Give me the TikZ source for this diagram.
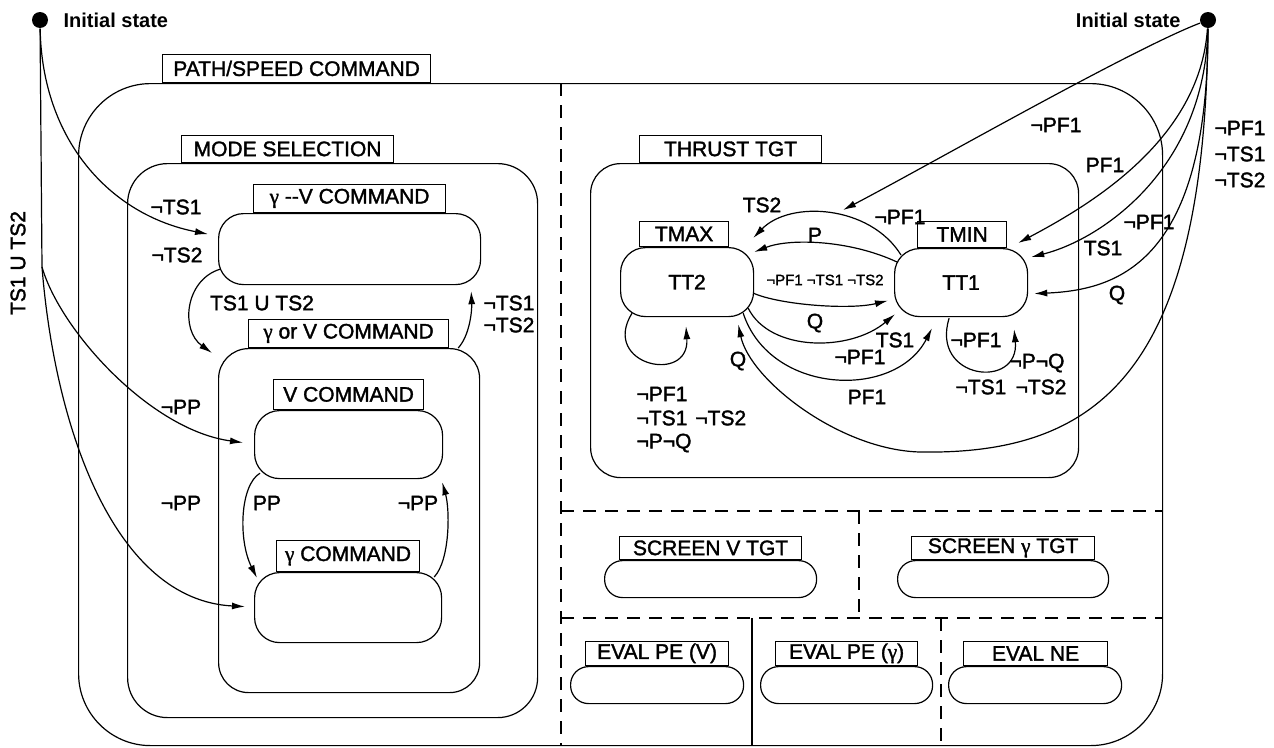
\documentclass[tikz,border=0pt]{standalone}
\usepackage{fontspec}
\setmainfont{Liberation Sans}[FakeBold=1.6]
\newfontfamily\headfont{Liberation Sans Bold}
\newfontfamily\grkfont{Liberation Serif}[FakeBold=1.6]
\newcommand{\gmm}{{\grkfont γ}}
\usetikzlibrary{arrows.meta,calc}

\begin{document}
\begin{tikzpicture}[x=1pt,y=-1pt,
  every node/.style={font=\fontsize{21}{23}\selectfont},
  line width=1.2pt,
  txt/.style={inner sep=0pt},
  small/.style={inner sep=0pt,font=\fontsize{15}{17}\selectfont},
  tag/.style={draw, inner sep=0pt, anchor=south west},
  region/.style={draw, rounded corners=#1, anchor=north west, inner sep=0pt},
  region/.default=25pt,
  edge/.style={-{Latex[length=13pt,width=7pt]}},
  bound/.style={dash pattern=on 13pt off 9pt},
  dot/.style={circle, fill, inner sep=0pt, minimum size=16pt},
  start/.style={inner sep=0pt, font=\headfont\fontsize{20}{22}\selectfont}
]
\useasboundingbox (0,0) rectangle (1274,747);

% initial states
\node[dot] (initL) at (40,20) {};
\node[start, anchor=west] (initLtxt) at (63,20) {Initial state};
\node[dot] (initR) at (1208,20) {};
\node[start, anchor=east] (initRtxt) at (1181,20) {Initial state};

% outer superstate
\node[region=72pt, minimum width=1084pt, minimum height=662pt] (ps) at (78,83) {};
\node[tag, minimum width=268pt, minimum height=28pt] (psTag) at (162,83) {PATH/SPEED COMMAND};

% orthogonal partitions
\draw[bound] (561,83) -- (561,745);
\draw[bound] (561,511) -- (1162,511);
\draw[bound] (561,618) -- (1162,618);
\draw[bound] (859,511) -- (859,618);
\draw (752,618) -- (752,745);
\draw[bound] (941,618) -- (941,745);

% mode selection
\node[region=40pt, minimum width=410pt, minimum height=554pt] (mode) at (127,163) {};
\node[tag, minimum width=212pt, minimum height=27pt] (modeTag) at (181,163) {MODE SELECTION};

\node[region=25pt, minimum width=262pt, minimum height=71pt] (gvc) at (218,213) {};
\node[tag, minimum width=192pt, minimum height=28pt] (gvcTag) at (253,213) {\gmm{} -{}-V COMMAND};

\node[region=30pt, minimum width=261pt, minimum height=344pt] (gorv) at (218,348) {};
\node[tag, minimum width=200pt, minimum height=28pt] (gorvTag) at (248,348) {\gmm{} or V COMMAND};

\node[region=25pt, minimum width=188pt, minimum height=68pt] (vcmd) at (254,410) {};
\node[tag, minimum width=150pt, minimum height=30pt] (vcmdTag) at (273,410) {V COMMAND};

\node[region=25pt, minimum width=187pt, minimum height=70pt] (gcmd) at (254,572) {};
\node[tag, minimum width=143pt, minimum height=31pt] (gcmdTag) at (276,572) {\gmm{} COMMAND};

% thrust target
\node[region=30pt, minimum width=488pt, minimum height=314pt] (thrust) at (590,163) {};
\node[tag, minimum width=182pt, minimum height=27pt] (thrustTag) at (639,163) {THRUST TGT};

\node[region=25pt, minimum width=133pt, minimum height=69pt] (tt2) at (620,247) {TT2};
\node[tag, minimum width=89pt, minimum height=25pt] (tt2Tag) at (639,247) {TMAX};
\node[region=25pt, minimum width=133pt, minimum height=68pt] (tt1) at (894,248) {TT1};
\node[tag, minimum width=89pt, minimum height=26pt] (tt1Tag) at (917,248) {TMIN};

% screening and evaluation states
\node[region=18pt, minimum width=212pt, minimum height=37pt] (svt) at (604,560) {};
\node[tag, minimum width=182pt, minimum height=23pt] (svtTag) at (619,560) {SCREEN V TGT};
\node[region=18pt, minimum width=211pt, minimum height=37pt] (sgt) at (897,560) {};
\node[tag, minimum width=183pt, minimum height=23pt] (sgtTag) at (911,560) {SCREEN \gmm{} TGT};
\node[region=18pt, minimum width=173pt, minimum height=37pt] (epv) at (570,666) {};
\node[tag, minimum width=143pt, minimum height=24pt] (epvTag) at (585,666) {EVAL PE (V)};
\node[region=18pt, minimum width=172pt, minimum height=37pt] (epg) at (760,666) {};
\node[tag, minimum width=142pt, minimum height=24pt] (epgTag) at (775,666) {EVAL PE (\gmm)};
\node[region=18pt, minimum width=173pt, minimum height=37pt] (ene) at (948,666) {};
\node[tag, minimum width=144pt, minimum height=24pt] (eneTag) at (963,666) {EVAL NE};

% transitions from the left initial state
\coordinate (split) at (42,267);
\draw (initL) -- (split);
\draw[edge] (initL) .. controls (42,140) and (110,215) .. ($(gvc.west)+(-10,-15)$);
\draw[edge] (split) .. controls (60,330) and (150,430) .. ($(vcmd.west)+(-11,-2)$);
\draw[edge] (split) .. controls (55,430) and (115,600) .. ($(gcmd.west)+(-9,-1)$);

% transitions inside mode selection
\draw[edge] ($(gvc.south west)+(2,-16)$) .. controls (185,280) and (180,330) .. ($(gorv.north west)+(-6,5)$);
\draw[edge] ($(gorv.north east)+(-22,0)$) .. controls (470,335) and (472,310) .. ($(gvc.south east)+(-10,6)$);
\draw[edge] ($(vcmd.south west)+(6,-6)$) .. controls (240,485) and (238,540) .. ($(gcmd.north west)+(3,6)$);
\draw[edge] ($(gcmd.north east)+(-8,5)$) .. controls (450,560) and (450,510) .. ($(vcmd.south east)+(-1,3)$);

% transitions inside thrust target
\coordinate (join) at (843,210);
\draw[edge] ($(tt1.north west)+(7,7)$) .. controls (870,205) and (790,200) .. ($(tt2.north east)+(-1,-9)$);
\draw[edge] ($(tt1.north west)+(3,14)$) .. controls (850,240) and (790,238) .. ($(tt2.north east)+(0,5)$);
\draw[edge] ($(tt2.east)+(-1,11)$) .. controls (780,305) and (850,310) .. ($(tt1.west)+(-6,18)$);
\draw[edge] ($(tt2.south east)+(-6,-9)$) .. controls (770,352) and (850,352) .. ($(tt1.south west)+(1,-3)$);
\draw[edge] ($(tt2.south east)+(-11,-4)$) .. controls (770,395) and (895,400) .. ($(tt1.south west)+(38,11)$);
\draw[edge] ($(tt2.south west)+(12,-4)$) .. controls (600,365) and (690,385) .. ($(tt2.south west)+(66,9)$);
\draw[edge] ($(tt1.south)+(-12,1)$) .. controls (930,380) and (1020,390) .. ($(tt1.south)+(53,12)$);

% transitions from the right initial state
\draw[edge] (initR) .. controls (1130,50) and (920,170) .. (join);
\draw[edge] (initR) .. controls (1200,140) and (1090,205) .. ($(tt1.north east)+(-10,-5)$);
\draw[edge] (initR) .. controls (1205,170) and (1100,240) .. ($(tt1.north east)+(3,9)$);
\draw[edge] (initR) .. controls (1208,260) and (1120,290) .. ($(tt1.east)+(6,11)$);
\draw[edge] (initR) .. controls (1205,370) and (1100,455) .. (920,452)
  .. controls (840,450) and (750,380) .. ($(tt2.south east)+(-16,7)$);

% labels: left side
\node[txt, rotate=90] (lTS) at (18,263) {TS1 U TS2};
\node[txt] (l1) at (176,207) {¬TS1};
\node[txt] (l2) at (177,255) {¬TS2};
\node[txt] (l3) at (181,407) {¬PP};
\node[txt] (l4) at (181,503) {¬PP};
\node[txt] (l5) at (262,303) {TS1 U TS2};
\node[txt, anchor=west] (l6) at (483,303) {¬TS1};
\node[txt, anchor=west] (l7) at (483,325) {¬TS2};
\node[txt] (l8) at (267,503) {PP};
\node[txt] (l9) at (418,503) {¬PP};

% labels: thrust target
\node[txt] (t1) at (762,205) {TS2};
\node[txt] (t2) at (900,217) {¬PF1};
\node[txt] (t3) at (815,235) {P};
\node[small] (t4) at (825,280) {¬PF1 ¬TS1 ¬TS2};
\node[txt] (t5) at (815,323) {Q};
\node[txt] (t6) at (895,340) {TS1};
\node[txt] (t7) at (860,357) {¬PF1};
\node[txt] (t8) at (867,397) {PF1};
\node[txt] (t9) at (738,361) {Q};
\node[txt, anchor=west] (t10) at (636,394) {¬PF1};
\node[txt, anchor=west] (t11) at (636,418) {¬TS1\hspace{8pt}¬TS2};
\node[txt, anchor=west] (t12) at (636,443) {¬P¬Q};
\node[txt] (t13) at (976,340) {¬PF1};
\node[txt] (t14) at (1037,363) {¬P¬Q};
\node[txt] (t15) at (1011,387) {¬TS1 \,¬TS2};

% labels: right side
\node[txt] (r1) at (1056,125) {¬PF1};
\node[txt] (r2) at (1105,165) {PF1};
\node[txt] (r3) at (1149,222) {¬PF1};
\node[txt] (r4) at (1103,248) {TS1};
\node[txt] (r5) at (1117,295) {Q};
\node[txt, anchor=west] (r6) at (1214,128) {¬PF1};
\node[txt, anchor=west] (r7) at (1214,154) {¬TS1};
\node[txt, anchor=west] (r8) at (1214,180) {¬TS2};
\end{tikzpicture}
\end{document}
